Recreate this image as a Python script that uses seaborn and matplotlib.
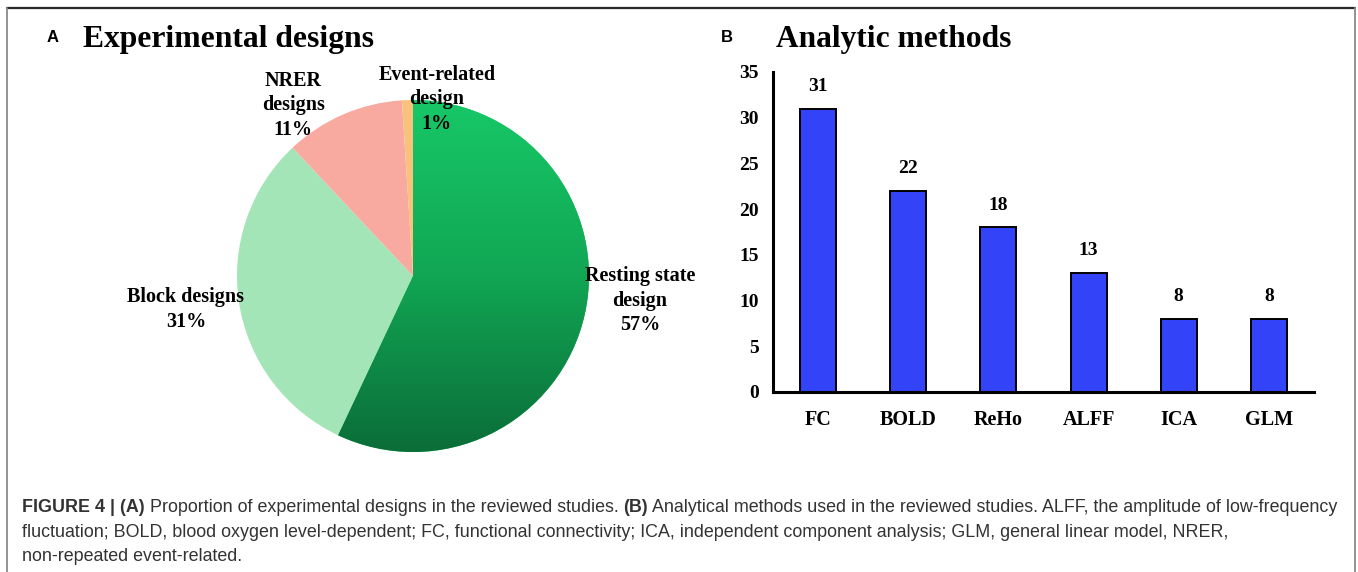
import numpy as np
import pandas as pd
import matplotlib
matplotlib.use("Agg")
import matplotlib.pyplot as plt
import seaborn as sns
from matplotlib.colors import LinearSegmentedColormap
from matplotlib.lines import Line2D

# ---------------- data ----------------
design_labels = ["Resting state\ndesign\n57%", "Block designs\n31%", "NRER\ndesigns\n11%", "Event-related\ndesign\n1%"]
design_shares = [57, 31, 11, 1]
design_colors = ["#14C363", "#A4E5B8", "#F9AAA0", "#F8C27C"]
design_label_pos = [(1.29, -0.14), (-1.29, -0.19), (-0.68, 0.97), (0.136, 1.005)]

methods = ["FC", "BOLD", "ReHo", "ALFF", "ICA", "GLM"]
counts = [31, 22, 18, 13, 8, 8]
y_ticks = [0, 5, 10, 15, 20, 25, 30, 35]

caption_line1 = [("FIGURE 4 | (A)", "bold"),
                 (" Proportion of experimental designs in the reviewed studies. ", "normal"),
                 ("(B)", "bold"),
                 (" Analytical methods used in the reviewed studies. ALFF, the amplitude of low-frequency", "normal")]
caption_line2 = "fluctuation; BOLD, blood oxygen level-dependent; FC, functional connectivity; ICA, independent component analysis; GLM, general linear model, NRER,"
caption_line3 = "non-repeated event-related."

# ---------------- style ----------------
sns.set_style("white")
plt.rcParams["font.family"] = ["Liberation Serif", "DejaVu Serif"]
plt.rcParams["text.color"] = "black"
plt.rcParams["xtick.color"] = "black"
plt.rcParams["ytick.color"] = "black"

W, H = 1358, 572
fig = plt.figure(figsize=(W / 100, H / 100), dpi=100)

def fx(px):
    return px / W

def fy(py):
    return 1 - py / H

# ---------------- border ----------------
fig.add_artist(Line2D([fx(7), fx(1355)], [fy(8), fy(8)], color="#2a2a2a", lw=1.6))
fig.add_artist(Line2D([fx(7), fx(7)], [fy(8), 0], color="#8a8a8a", lw=1.3))
fig.add_artist(Line2D([fx(1355), fx(1355)], [fy(8), 0], color="#8a8a8a", lw=1.3))

# ---------------- pie (panel A) ----------------
cx, cy, R = 413, 276, 176
axp = fig.add_axes([0, fy(cy + 276), fx(2 * cx), 552 / H])
axp.set_aspect("equal")
axp.axis("off")
wedges, _ = axp.pie(design_shares, colors=design_colors, startangle=90, counterclock=False,
                    radius=1, wedgeprops=dict(linewidth=0))
grad_cmap = LinearSegmentedColormap.from_list("g", ["#0B6D38", "#11A654", "#17C867"])
grad = np.linspace(0, 1, 256).reshape(-1, 1)
im = axp.imshow(grad, cmap=grad_cmap, extent=[-1, 1, -1, 1], origin="lower", aspect="auto", zorder=3)
im.set_clip_path(wedges[0])
axp.set_xlim(-cx / R, cx / R)
axp.set_ylim(-276 / R, 276 / R)
for lab, (lx, ly) in zip(design_labels, design_label_pos):
    axp.text(lx, ly, lab, ha="center", va="center", fontsize=14.5, fontweight="bold",
             linespacing=1.3, zorder=5)

fig.text(fx(83), fy(47), "Experimental designs", fontsize=22.8, fontweight="bold", ha="left", va="baseline")
fig.text(fx(47), fy(42), "A", fontsize=12, fontweight="bold", family=["Liberation Sans"], ha="left", va="baseline")

# ---------------- bars (panel B) ----------------
axb = fig.add_axes([fx(773), fy(392), fx(1314) - fx(773), (392 - 72) / H])
df = pd.DataFrame({"method": methods, "count": counts})
sns.barplot(data=df, x="method", y="count", color="#3344F8", edgecolor="black", linewidth=1.4,
            width=0.4, saturation=1, ax=axb)
for p in axb.patches:
    p.set_facecolor("#3344F8")
axb.set_xlim(-0.5, len(methods) - 0.5)
axb.set_ylim(0, 35)
axb.set_yticks(y_ticks)
axb.set_xlabel("")
axb.set_ylabel("")
for s in ["top", "right"]:
    axb.spines[s].set_visible(False)
for s in ["left", "bottom"]:
    axb.spines[s].set_linewidth(2.2)
    axb.spines[s].set_color("black")
axb.tick_params(axis="y", direction="out", length=5, width=2, pad=5, labelsize=14)
axb.tick_params(axis="x", which="major", length=0, pad=13, labelsize=14.5)
axb.set_xticks(np.arange(-0.5, len(methods) + 0.5, 1), minor=True)
axb.tick_params(axis="x", which="minor", direction="out", length=7, width=2)
for t in axb.get_xticklabels() + axb.get_yticklabels():
    t.set_fontweight("bold")
for i, v in enumerate(counts):
    axb.annotate(str(v), (i, v), xytext=(0, 10), textcoords="offset points", ha="center",
                 va="bottom", fontsize=14, fontweight="bold")

fig.text(fx(776), fy(47), "Analytic methods", fontsize=22.7, fontweight="bold", ha="left", va="baseline")
fig.text(fx(721), fy(42), "B", fontsize=12, fontweight="bold", family=["Liberation Sans"], ha="left", va="baseline")

# ---------------- caption ----------------
cap_kw = dict(fontsize=12.9, color="#333333", family=["Liberation Sans"], va="baseline", ha="left")
renderer = fig.canvas.get_renderer()
x = fx(22)
for txt, wt in caption_line1:
    t = fig.text(x, fy(512), txt, fontweight=wt, **cap_kw)
    bb = t.get_window_extent(renderer)
    x += bb.width / W
fig.text(fx(22), fy(537), caption_line2, **cap_kw)
fig.text(fx(22), fy(561), caption_line3, **cap_kw)

fig.savefig("out.png", dpi=100)
